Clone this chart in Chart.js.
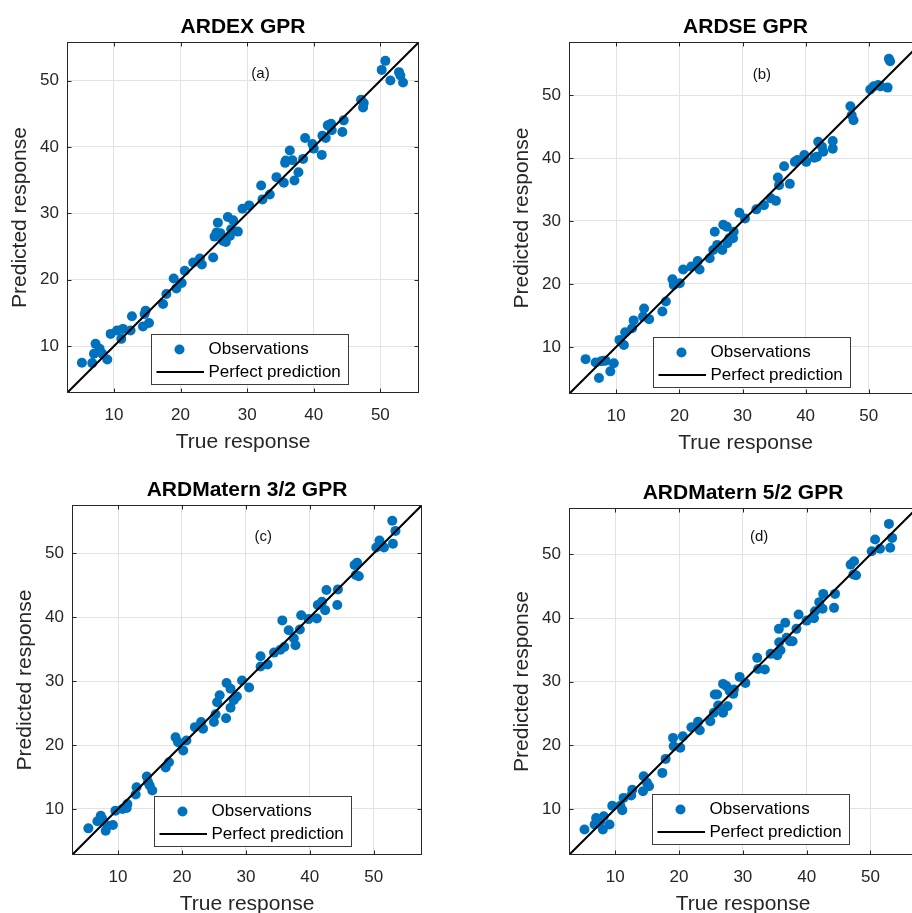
<!DOCTYPE html>
<html><head><meta charset="utf-8">
<script src="https://cdn.jsdelivr.net/npm/chart.js@4.4.1/dist/chart.umd.min.js"></script>
<style>
html,body{margin:0;padding:0;width:912px;height:913px;overflow:hidden;background:#fff;}
canvas{position:absolute;}
</style></head><body>
<canvas id="ca"></canvas><canvas id="cb"></canvas><canvas id="cc"></canvas><canvas id="cd"></canvas>
<script>
// ---------------- data ----------------
const TICKS = [10, 20, 30, 40, 50];
const TITLES = ['ARDEX GPR', 'ARDSE GPR', 'ARDMatern 3/2 GPR', 'ARDMatern 5/2 GPR'];
const TAGS = ['(a)', '(b)', '(c)', '(d)'];
const X_LABEL = 'True response';
const Y_LABEL = 'Predicted response';
const SERIES_LABELS = ['Observations', 'Perfect prediction'];

const aTrue = [5.19,6.74,7.0,7.24,7.85,8.25,9.0,9.5,10.45,11.1,11.35,12.5,12.7,14.36,14.6,14.76,15.26,17.37,17.87,18.97,19.37,20.17,20.63,21.9,22.9,23.2,24.9,25.1,25.4,25.6,26.0,26.4,26.8,27.1,27.4,27.6,27.9,28.6,29.3,30.3,32.1,32.3,33.4,34.4,35.5,35.7,35.8,36.4,36.8,37.1,37.7,38.4,38.7,39.8,40.0,41.2,41.3,41.8,42.1,42.6,42.7,44.3,44.5,47.1,47.5,47.4,50.2,50.75,51.5,52.8,53.0,53.4];
const aPred = [7.5,7.45,8.85,10.35,9.6,8.85,8.0,11.85,12.35,11.1,12.6,12.35,14.5,12.95,14.85,15.35,13.5,16.35,17.85,20.2,18.7,19.5,21.35,22.6,23.2,22.3,23.35,26.5,27.1,28.6,27.0,25.85,25.7,29.45,26.6,27.6,28.95,27.25,30.7,31.2,34.2,32.1,32.85,35.45,34.6,37.6,37.95,39.45,38.0,34.95,36.2,38.2,41.35,40.45,39.75,38.8,41.7,41.35,43.25,43.5,42.5,42.25,44.0,47.1,46.6,45.95,51.6,52.96,50.0,51.26,50.75,49.7];

const bTrue = [5.13,6.72,7.25,7.6,8.0,8.3,9.05,9.6,10.5,11.2,11.4,12.5,12.75,14.24,14.4,15.2,17.3,17.85,18.9,19.1,20.06,20.6,21.9,22.9,23.2,24.8,25.36,25.6,25.99,26.8,26.95,27.5,27.6,27.9,28.5,28.6,29.5,30.4,32.2,33.4,34.5,35.3,35.6,35.8,36.6,37.5,38.3,38.7,39.8,40.1,41.4,41.8,42.0,42.6,42.8,44.3,44.3,47.1,47.3,47.6,50.25,50.8,51.5,51.9,53.0,53.2,53.4];
const bPred = [8.04,7.5,5.03,7.7,7.8,7.8,6.1,7.4,11.1,10.3,12.3,12.96,14.2,14.8,16.1,14.4,15.6,17.2,20.74,19.84,20.1,22.3,22.75,23.65,22.3,24.07,25.4,28.3,26.2,25.4,29.4,29.1,26.45,27.25,27.25,28.3,31.3,30.4,31.85,32.5,33.6,33.2,36.9,35.7,38.7,35.9,39.4,39.7,40.5,39.4,40.05,40.2,42.6,41.8,41.0,42.7,41.5,48.25,46.8,46.0,50.9,51.4,51.6,51.4,51.2,55.8,55.4];

const cTrue = [5.36,6.77,7.3,7.55,8.07,8.33,9.2,9.6,10.7,11.35,11.46,12.76,12.9,14.5,14.7,14.96,15.36,17.45,17.97,19.0,19.4,20.2,20.7,22.03,23.0,23.3,25.0,25.26,25.5,25.9,26.9,26.98,27.6,27.6,28.1,28.6,29.4,30.5,32.3,32.3,33.4,34.4,35.4,35.7,36.0,36.7,37.5,37.76,38.44,38.65,39.8,41.1,41.25,41.9,42.4,42.6,44.3,44.4,47.0,47.4,47.2,47.66,50.4,50.9,51.6,52.9,53.0,53.4];
const cPred = [6.97,8.07,8.95,8.43,6.6,7.4,7.5,9.74,10.0,10.16,10.78,12.25,13.4,15.07,14.2,13.66,12.9,16.5,17.3,21.2,20.45,19.15,20.7,22.8,23.6,22.55,23.6,24.8,26.7,27.8,24.2,29.7,28.8,25.84,27.0,27.6,30.1,29.0,33.9,32.3,32.6,34.46,34.9,39.5,35.35,37.97,36.7,35.6,38.07,40.3,39.7,39.8,41.9,42.4,41.1,44.24,41.9,44.35,48.16,48.5,46.6,46.4,50.9,52.0,50.9,55.1,51.5,53.5];

const dTrue = [5.18,6.75,7.0,7.64,8.06,8.2,9.1,9.53,10.8,11.1,11.3,12.5,12.67,14.35,14.45,14.97,15.3,17.38,17.9,19.06,19.16,20.2,20.6,21.94,22.98,23.25,24.9,25.45,25.6,25.97,26.13,26.9,26.9,27.43,27.6,27.96,28.5,28.6,29.5,30.4,32.25,32.4,33.45,34.35,35.4,35.65,35.7,35.9,36.65,36.86,37.4,37.8,38.4,38.74,40.0,41.15,41.3,41.98,42.5,42.6,44.45,44.3,46.9,47.43,47.33,47.75,50.2,50.73,51.5,52.9,53.1,53.4];
const dPred = [6.75,7.54,8.58,8.06,6.75,8.85,7.54,10.5,10.5,9.8,11.73,12.1,13.0,12.78,15.14,14.1,13.56,15.66,17.86,21.16,19.85,19.6,21.4,22.84,23.68,22.37,23.78,25.1,27.98,27.98,26.25,29.65,25.1,29.3,26.14,28.5,28.08,28.76,30.75,29.8,33.74,32.0,31.9,34.37,34.16,38.3,36.2,34.95,39.25,36.9,36.36,36.36,38.3,40.55,39.6,39.98,41.08,42.5,41.45,43.8,43.8,41.6,48.4,48.94,46.84,46.74,50.5,52.35,50.88,54.8,51.05,52.6];

// axis limits per panel (data units)
const LIMITS = [[2.95, 55.8], [2.5, 58.45], [2.8, 57.55], [2.75, 57.3]];
// tag anchor per panel (data units)
const TAG_POS = [[32.0, 51.0], [33.06, 53.3], [32.7, 52.6], [32.56, 52.7]];

// ---------------- layout (pixels) ----------------
const FONT = "'Liberation Sans', Arial, Helvetica, sans-serif";
const PANELS = [
  {id:'ca', L:67,  T:42,  R:419, B:393, legL:83.7, legB:8.7},
  {id:'cb', L:569, T:42,  R:922, B:394, legL:83.7, legB:6.7},
  {id:'cc', L:72,  T:505, R:422, B:855, legL:82.3, legB:9},
  {id:'cd', L:569, T:508, R:917, B:855, legL:82.7, legB:11}
];
const PAD_L = 67, PAD_R = 67, PAD_T = 42, PAD_B = 63;
const INK = '#262626';

const framePlugin = {
  id: 'frame',
  afterDatasetsDraw(chart, args, o) {
    const ctx = chart.ctx, a = chart.chartArea;
    const xs = chart.scales.x, ys = chart.scales.y;
    ctx.save();
    // tag text
    ctx.font = '15px ' + FONT;
    ctx.fillStyle = '#111';
    ctx.textAlign = 'center';
    ctx.textBaseline = 'middle';
    ctx.fillText(o.tag, xs.getPixelForValue(o.tagX), ys.getPixelForValue(o.tagY));
    // box
    ctx.strokeStyle = INK;
    ctx.lineWidth = 1;
    const l = Math.round(a.left) + 0.5, r = Math.round(a.right) - 0.5;
    const t = Math.round(a.top) + 0.5, b = Math.round(a.bottom) - 0.5;
    ctx.strokeRect(l, t, r - l, b - t);
    // inner ticks
    const TL = 4;
    ctx.beginPath();
    TICKS.forEach(v => {
      const px = Math.round(xs.getPixelForValue(v)) + 0.5;
      ctx.moveTo(px, b); ctx.lineTo(px, b - TL);
      ctx.moveTo(px, t); ctx.lineTo(px, t + TL);
      const py = Math.round(ys.getPixelForValue(v)) + 0.5;
      ctx.moveTo(l, py); ctx.lineTo(l + TL, py);
      ctx.moveTo(r, py); ctx.lineTo(r - TL, py);
    });
    ctx.stroke();
    // legend
    const bw = 197, bh = 50;
    const bx = Math.round(a.left + o.legL), by = Math.round(a.bottom - o.legB - bh);
    ctx.fillStyle = '#fff';
    ctx.fillRect(bx, by, bw, bh);
    ctx.strokeStyle = '#3c3c3c';
    ctx.lineWidth = 1;
    ctx.strokeRect(bx + 0.5, by + 0.5, bw, bh);
    const ds = chart.data.datasets;
    const obs = ds.find(d => d.label === SERIES_LABELS[0]);
    const line = ds.find(d => d.label === SERIES_LABELS[1]);
    ctx.fillStyle = obs.backgroundColor;
    ctx.beginPath();
    ctx.arc(bx + 28.5, by + 15.5, 5, 0, Math.PI * 2);
    ctx.fill();
    ctx.strokeStyle = line.borderColor;
    ctx.lineWidth = 2;
    ctx.beginPath();
    ctx.moveTo(bx + 5.5, by + 38); ctx.lineTo(bx + 53, by + 38);
    ctx.stroke();
    ctx.fillStyle = '#000';
    ctx.font = '17px ' + FONT;
    ctx.textAlign = 'left';
    ctx.textBaseline = 'middle';
    ctx.fillText(obs.label, bx + 57.5, by + 15.5);
    ctx.fillText(line.label, bx + 57.5, by + 38);
    ctx.restore();
  }
};

function makeChart(i, xsArr, ysArr) {
  const p = PANELS[i];
  const [lo, hi] = LIMITS[i];
  const W = (p.R - p.L) + PAD_L + PAD_R;
  const H = (p.B - p.T) + PAD_T + PAD_B;
  const cv = document.getElementById(p.id);
  cv.width = W; cv.height = H;
  cv.style.width = W + 'px'; cv.style.height = H + 'px';
  cv.style.left = (p.L - PAD_L) + 'px';
  cv.style.top = (p.T - PAD_T) + 'px';
  const pts = xsArr.map((x, k) => ({x: x, y: ysArr[k]}));
  const tickFont = {family: FONT, size: 17};
  const axTitleFont = {family: FONT, size: 21, lineHeight: 1.2};
  new Chart(cv, {
    type: 'scatter',
    data: {datasets: [
      {label: SERIES_LABELS[1], type: 'line', data: [{x: lo, y: lo}, {x: hi, y: hi}],
       borderColor: '#000000', borderWidth: 2, pointRadius: 0, fill: false, order: 0},
      {label: SERIES_LABELS[0], data: pts, backgroundColor: '#0072BD', borderWidth: 0,
       pointRadius: 5, pointHoverRadius: 5, order: 1}
    ]},
    options: {
      responsive: false, animation: false, devicePixelRatio: 1,
      events: [],
      layout: {padding: 0},
      plugins: {
        legend: {display: false},
        tooltip: {enabled: false},
        title: {display: true, text: TITLES[i], color: '#000',
                font: {family: FONT, size: 21, weight: 'bold', lineHeight: 1.2},
                padding: {top: 14.9, bottom: PAD_T - 14.9 - 25.2}},
        frame: {tag: TAGS[i], tagX: TAG_POS[i][0], tagY: TAG_POS[i][1], legL: p.legL, legB: p.legB}
      },
      scales: {
        x: {type: 'linear', position: 'bottom', min: lo, max: hi,
            afterBuildTicks: s => { s.ticks = TICKS.map(v => ({value: v})); },
            afterFit: s => { s.height = PAD_B; },
            grid: {color: '#e2e2e2', lineWidth: 1, drawTicks: false},
            border: {display: false},
            ticks: {padding: 12, color: INK, font: tickFont, maxRotation: 0, callback: v => String(v)},
            title: {display: true, text: X_LABEL, color: INK, font: axTitleFont, padding: {top: 0, bottom: 1.4}}},
        y: {type: 'linear', position: 'left', min: lo, max: hi,
            afterBuildTicks: s => { s.ticks = TICKS.map(v => ({value: v})); },
            afterFit: s => { s.width = PAD_L; },
            grid: {color: '#e2e2e2', lineWidth: 1, drawTicks: false},
            border: {display: false},
            ticks: {padding: 8, color: INK, font: tickFont, callback: v => String(v)},
            title: {display: true, text: Y_LABEL, color: INK, font: axTitleFont, padding: {top: 7.9, bottom: 0}}},
        yRight: {type: 'linear', position: 'right', min: lo, max: hi,
            afterFit: s => { s.width = PAD_R; },
            grid: {display: false, drawTicks: false},
            border: {display: false},
            ticks: {display: false},
            title: {display: false}}
      }
    },
    plugins: [framePlugin]
  });
}

makeChart(0, aTrue, aPred);
makeChart(1, bTrue, bPred);
makeChart(2, cTrue, cPred);
makeChart(3, dTrue, dPred);
</script>
</body></html>
